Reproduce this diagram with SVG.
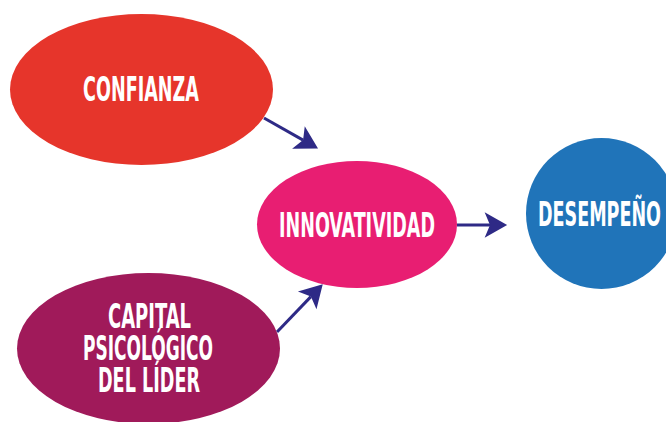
<svg xmlns="http://www.w3.org/2000/svg" width="666" height="422" viewBox="0 0 666 422">
<style>
.lbl{font-family:"DejaVu Sans Condensed","DejaVu Sans",sans-serif;font-weight:bold;font-size:33px;fill:#ffffff;text-anchor:middle}
.conn{stroke:#2e2a86;stroke-width:3;fill:none;marker-end:url(#ah)}
</style>
<defs>
<marker id="ah" markerUnits="userSpaceOnUse" markerWidth="30" markerHeight="30" viewBox="-2 -14 26 28" refX="5" refY="0" orient="auto">
<path d="M0,-12 L21,0 L0,12 L5,0 Z" fill="#2e2a86"/>
</marker>
</defs>
<rect width="666" height="422" fill="#ffffff"/>
<g id="connectors">
<line class="conn" x1="264" y1="118" x2="303.1" y2="140.1"/>
<line class="conn" x1="277" y1="332" x2="310.9" y2="296.6"/>
<line class="conn" x1="457" y1="225" x2="490" y2="225"/>
</g>
<g id="confianza">
<ellipse cx="141.5" cy="89.5" rx="131.5" ry="75.5" fill="#e6352b"/>
<text class="lbl" x="141" y="101" textLength="116" lengthAdjust="spacingAndGlyphs">CONFIANZA</text>
</g>
<g id="innovatividad">
<ellipse cx="357" cy="224.5" rx="100" ry="63.5" fill="#e81e72"/>
<text class="lbl" x="357" y="237" textLength="156" lengthAdjust="spacingAndGlyphs">INNOVATIVIDAD</text>
</g>
<g id="desempeno">
<circle cx="601.5" cy="213.5" r="75.5" fill="#2074b9"/>
<text class="lbl" x="599.5" y="226" textLength="123" lengthAdjust="spacingAndGlyphs">DESEMPEÑO</text>
</g>
<g id="capital">
<ellipse cx="148.5" cy="348.5" rx="131.5" ry="75.5" fill="#a01a5a"/>
<text class="lbl" x="149.5" y="328" textLength="83" lengthAdjust="spacingAndGlyphs">CAPITAL</text>
<text class="lbl" x="148" y="360" textLength="130" lengthAdjust="spacingAndGlyphs">PSICOLÓGICO</text>
<text class="lbl" x="149" y="392" textLength="102" lengthAdjust="spacingAndGlyphs">DEL LÍDER</text>
</g>
</svg>
